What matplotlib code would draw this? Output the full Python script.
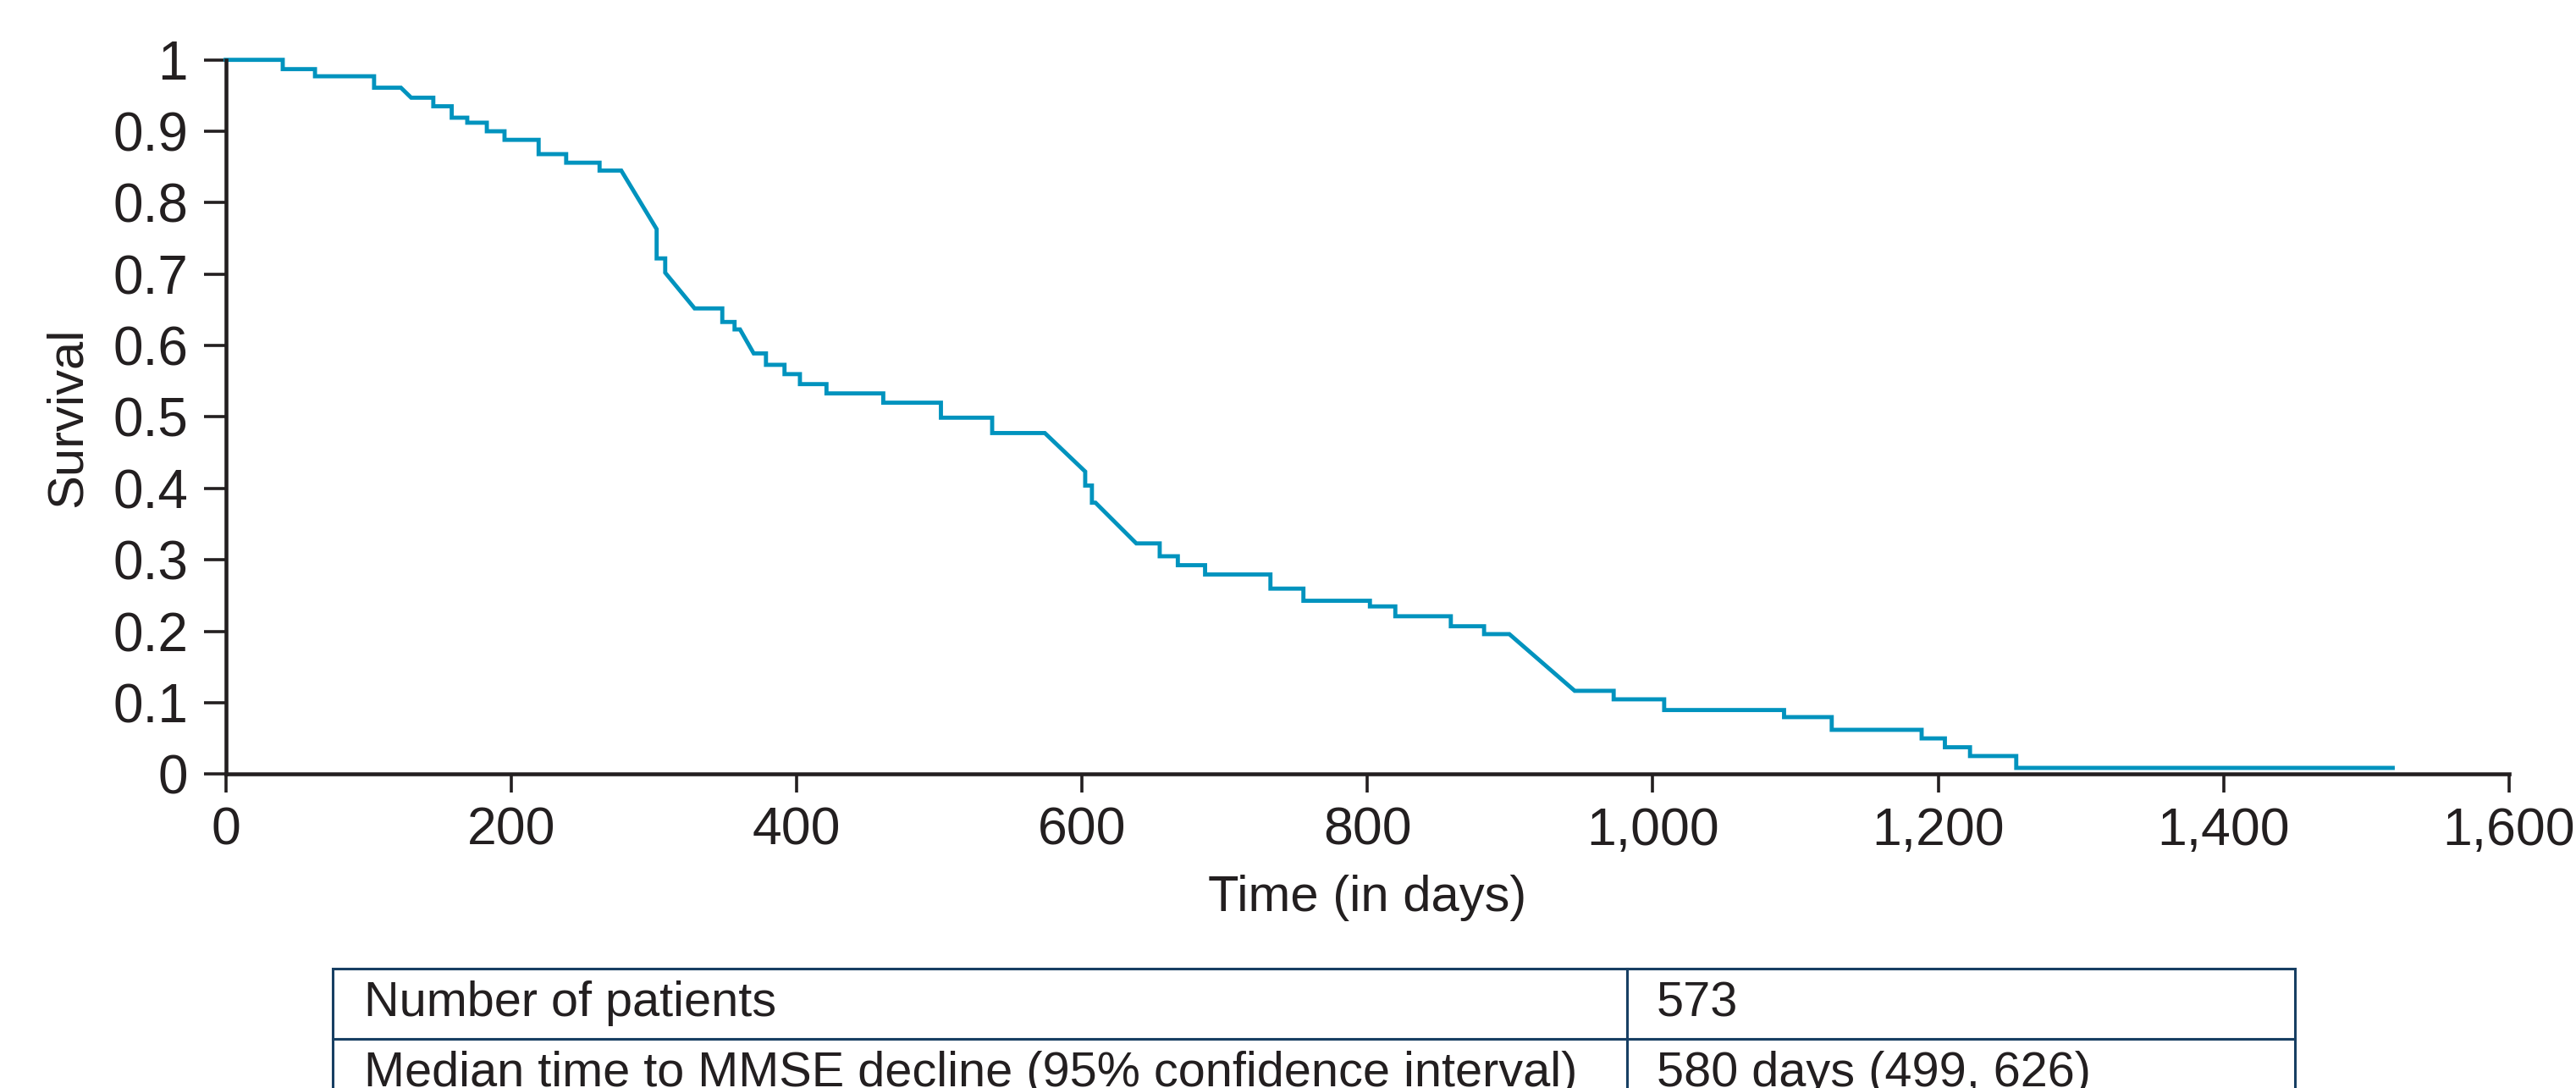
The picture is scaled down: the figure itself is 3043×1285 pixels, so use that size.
import matplotlib
matplotlib.use("Agg")
import matplotlib.pyplot as plt

# Kaplan-Meier style curve, vertices
days = [0, 40, 40, 62.6, 62.6, 104, 104, 122.8, 130, 145.5, 145.5,
        158.4, 158.4, 169.3, 169.3, 183, 183, 195.4, 195.4, 219.3, 219.3,
        238.6, 238.6, 262, 262, 277.2, 302, 302, 308, 308, 328.6,
        348, 348, 356.6, 356.6, 360.4, 370, 378.6, 378.6, 391.6, 391.6,
        402.4, 402.4, 421, 421, 460.8, 460.8, 501.2, 501.2, 537.1, 537.1,
        574, 602.3, 602.3, 607, 607, 609.5, 638.1, 654.5, 654.5,
        667.2, 667.2, 686.3, 686.3, 732.1, 732.1, 755.2, 755.2,
        801.8, 801.8, 819.6, 819.6, 858.5, 858.5, 881.8, 881.8,
        899.5, 945.3, 972.6, 972.6, 1008, 1008, 1092, 1092,
        1125.4, 1125.4, 1188.4, 1188.4, 1204.7, 1204.7, 1222.3, 1222.3,
        1254.7, 1254.7, 1518.5]
surv = [1.0, 1.0, 0.987, 0.987, 0.977, 0.977, 0.961, 0.961, 0.947, 0.947, 0.935,
        0.935, 0.919, 0.919, 0.912, 0.912, 0.900, 0.900, 0.888, 0.888, 0.868,
        0.868, 0.856, 0.856, 0.845, 0.845, 0.763, 0.722, 0.722, 0.702, 0.652,
        0.652, 0.633, 0.633, 0.6226, 0.6226, 0.589, 0.589, 0.573, 0.573, 0.560,
        0.560, 0.546, 0.546, 0.533, 0.533, 0.520, 0.520, 0.499, 0.499, 0.4775,
        0.4775, 0.4236, 0.404, 0.404, 0.380, 0.380, 0.323, 0.323, 0.305,
        0.305, 0.2925, 0.2925, 0.2795, 0.2795, 0.2597, 0.2597, 0.2427,
        0.2427, 0.2348, 0.2348, 0.221, 0.221, 0.207, 0.207, 0.196,
        0.196, 0.1166, 0.1166, 0.1047, 0.1047, 0.0897, 0.0897, 0.0798,
        0.0798, 0.062, 0.062, 0.050, 0.050, 0.0376, 0.0376, 0.0253,
        0.0253, 0.0087, 0.0087]

yticks = [0, 0.1, 0.2, 0.3, 0.4, 0.5, 0.6, 0.7, 0.8, 0.9, 1]
ytick_labels = ['0', '0.1', '0.2', '0.3', '0.4', '0.5', '0.6', '0.7', '0.8', '0.9', '1']
xticks = [0, 200, 400, 600, 800, 1000, 1200, 1400, 1600]
xtick_labels = ['0', '200', '400', '600', '800', '1,000', '1,200', '1,400', '1,600']

table_rows = [['Number of patients', '573'],
              ['Median time to MMSE decline (95% confidence interval)', '580 days (499, 626)']]

ink = '#231f20'
blue = '#0093be'
navy = '#173f63'
plt.rcParams['font.family'] = ['Liberation Sans', 'DejaVu Sans']

fig = plt.figure(figsize=(30.43, 12.85), dpi=100)
ax = fig.add_axes([0.0876, 0.2885, 0.8864, 0.6565])

ax.plot(days, surv, color=blue, lw=3.5, clip_on=False, solid_joinstyle='miter')

ax.set_xlim(0, 1600)
ax.set_ylim(0, 1)
ax.set_xticks(xticks)
ax.set_xticklabels(xtick_labels)
ax.set_yticks(yticks)
ax.set_yticklabels(ytick_labels)

for s in ['top', 'right']:
    ax.spines[s].set_visible(False)
for s in ['left', 'bottom']:
    ax.spines[s].set_linewidth(3.3)
    ax.spines[s].set_color(ink)

ax.tick_params(axis='y', length=19, width=2.6, color=ink, labelsize=46, labelcolor=ink, pad=13)
ax.tick_params(axis='x', length=16, width=2.6, color=ink, labelsize=45, labelcolor=ink, pad=11)

ax.set_xlabel('Time (in days)', fontsize=43, color=ink, labelpad=16)
ax.set_ylabel('Survival', fontsize=43, color=ink, labelpad=18)

# table under the chart
tax = fig.add_axes([0.1292, -0.0187, 0.7617, 0.1284])
tax.axis('off')
tbl = tax.table(cellText=table_rows, colWidths=[0.6595, 0.3405],
                cellLoc='left', bbox=[0, 0, 1, 1])
tbl.auto_set_font_size(False)
for (r, c), cell in tbl.get_celld().items():
    cell.set_edgecolor(navy)
    cell.set_linewidth(2.2)
    cell.set_facecolor('white')
    cell.PAD = 0.024 if c == 0 else 0.044
    cell.get_text().set_fontsize(41.5)
    cell.get_text().set_color(ink)

fig.savefig('out.png', dpi=100)
